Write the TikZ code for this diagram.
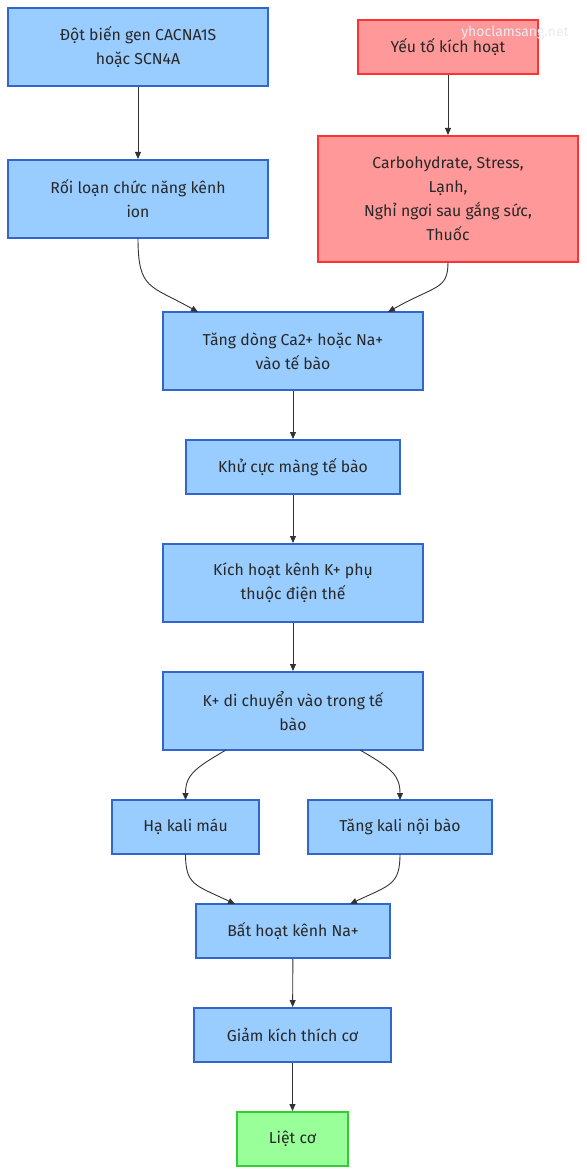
\documentclass[tikz,border=0pt]{standalone}
\usepackage{fontspec}
\setmainfont{Fira Sans}
\usetikzlibrary{arrows.meta}
\definecolor{bfill}{RGB}{153,204,255}
\definecolor{bdraw}{RGB}{51,102,204}
\definecolor{rfill}{RGB}{255,153,153}
\definecolor{rdraw}{RGB}{255,51,51}
\definecolor{gfill}{RGB}{153,255,153}
\definecolor{gdraw}{RGB}{51,204,51}
\definecolor{edgec}{RGB}{51,51,51}
\definecolor{textc}{RGB}{40,40,40}
\definecolor{wm}{RGB}{230,235,242}
\tikzset{
  box/.style={rectangle, line width=2pt, inner sep=0pt, align=center, text=textc,
    font=\fontsize{15.8}{24}\selectfont},
  bluebox/.style={box, fill=bfill, draw=bdraw},
  redbox/.style={box, fill=rfill, draw=rdraw},
  greenbox/.style={box, fill=gfill, draw=gdraw},
  edge/.style={draw=edgec, line width=0.9pt, -{Triangle[length=7pt,width=6pt]}}
}
\begin{document}
\begin{tikzpicture}[x=1pt,y=-1pt]
\useasboundingbox (0,0) rectangle (586,1174);
\node[bluebox, minimum width=260pt, minimum height=78pt] (n1) at (138,47) {Đột biến gen CACNA1S\\hoặc SCN4A};
\node[redbox, minimum width=180pt, minimum height=54pt] (n2) at (448,47) {Yếu tố kích hoạt};
\node[bluebox, minimum width=260pt, minimum height=78pt] (n3) at (138,199) {Rối loạn chức năng kênh\\ion};
\node[redbox, minimum width=260pt, minimum height=126pt] (n4) at (448,199) {Carbohydrate, Stress,\\Lạnh,\\Nghỉ ngơi sau gắng sức,\\Thuốc};
\node[bluebox, minimum width=260pt, minimum height=78pt] (n5) at (293,351) {Tăng dòng Ca2+ hoặc Na+\\vào tế bào};
\node[bluebox, minimum width=214pt, minimum height=54pt] (n6) at (293,467) {Khử cực màng tế bào};
\node[bluebox, minimum width=260pt, minimum height=78pt] (n7) at (293,583) {Kích hoạt kênh K+ phụ\\thuộc điện thế};
\node[bluebox, minimum width=260pt, minimum height=78pt] (n8) at (293,711) {K+ di chuyển vào trong tế\\bào};
\node[bluebox, minimum width=147pt, minimum height=54pt] (n9) at (185.5,827) {Hạ kali máu};
\node[bluebox, minimum width=184pt, minimum height=54pt] (n10) at (400,827) {Tăng kali nội bào};
\node[bluebox, minimum width=194pt, minimum height=54pt] (n11) at (293,931) {Bất hoạt kênh Na+};
\node[bluebox, minimum width=197pt, minimum height=54pt] (n12) at (292.5,1035) {Giảm kích thích cơ};
\node[greenbox, minimum width=111pt, minimum height=54pt] (n13) at (292.5,1139) {Liệt cơ};
\node[text=wm, font=\fontsize{14}{14}\selectfont] (wmk) at (515,33) {yhoclamsang.net};

\coordinate (c3) at (138,238);
\coordinate (c5a) at (198,312);
\coordinate (c4) at (448,262);
\coordinate (c5b) at (388,312);
\coordinate (c8a) at (226,750);
\coordinate (c9t) at (185.5,800);
\coordinate (c8b) at (360,750);
\coordinate (c10t) at (400,800);
\coordinate (c9b) at (185.5,854);
\coordinate (c11a) at (235,904);
\coordinate (c10b) at (400,854);
\coordinate (c11b) at (350,904);

\draw[edge] (n1) -- (n3);
\draw[edge] (n2) -- (n4);
\draw[edge] (c3) .. controls (138,290) and (150,285) .. (c5a);
\draw[edge] (c4) .. controls (448,290) and (436,285) .. (c5b);
\draw[edge] (n5) -- (n6);
\draw[edge] (n6) -- (n7);
\draw[edge] (n7) -- (n8);
\draw[edge] (c8a) .. controls (195,768) and (185.5,775) .. (c9t);
\draw[edge] (c8b) .. controls (391,768) and (400,775) .. (c10t);
\draw[edge] (c9b) .. controls (185.5,885) and (195,885) .. (c11a);
\draw[edge] (c10b) .. controls (400,885) and (390,885) .. (c11b);
\draw[edge] (n11) -- (n12);
\draw[edge] (n12) -- (n13);
\end{tikzpicture}
\end{document}
